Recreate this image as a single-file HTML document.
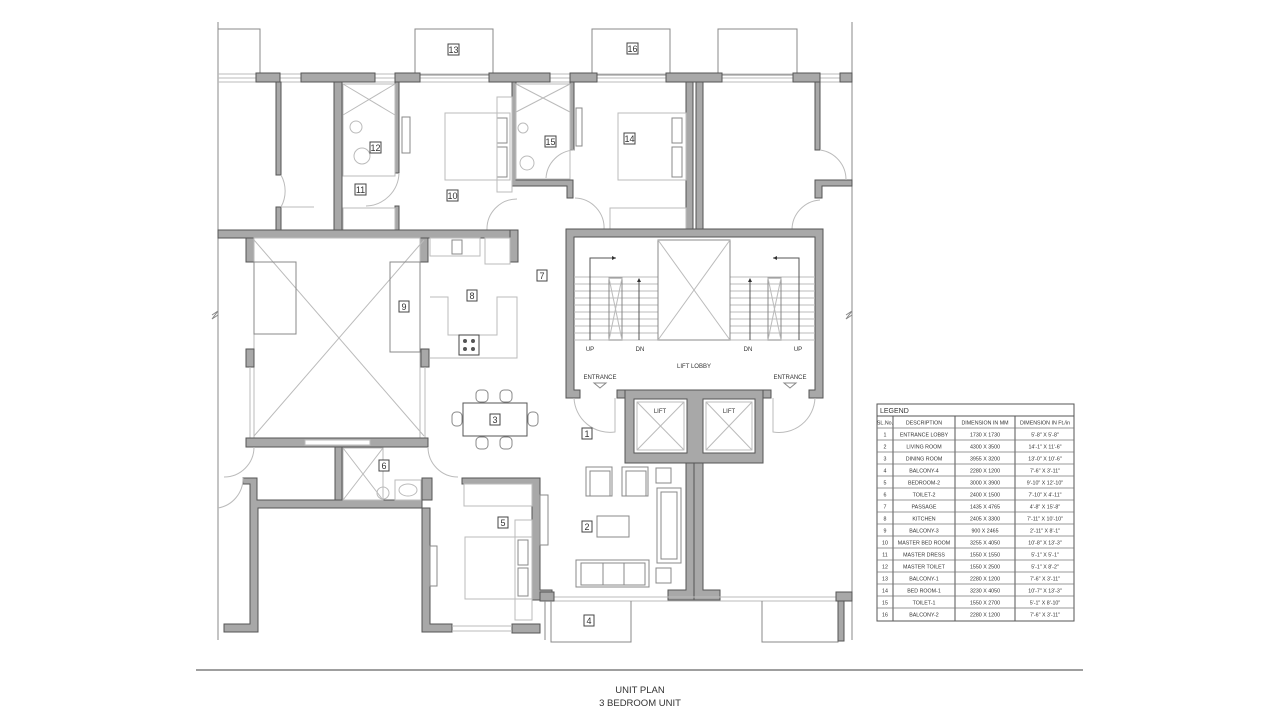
<!DOCTYPE html>
<html><head><meta charset="utf-8"><style>
html,body{margin:0;padding:0;background:#fff;width:1280px;height:720px;overflow:hidden}
svg{display:block}
text{font-family:"Liberation Sans",sans-serif;fill:#333}
.w{fill:#a8a8a8;stroke:#555;stroke-width:1}
.t{fill:none;stroke:#888;stroke-width:1}
.l{fill:none;stroke:#bbb;stroke-width:1}
.n{fill:#fff;stroke:#444;stroke-width:1}
</style></head><body>
<svg width="1280" height="720" viewBox="0 0 1280 720" xmlns="http://www.w3.org/2000/svg">
<!-- outer thin lines -->
<line x1="218" y1="22" x2="218" y2="640" class="t"/>
<line x1="852" y1="22" x2="852" y2="640" class="t"/>
<path d="M212 315 l6 -4 l-6 8 l6 -4" class="t"/>
<path d="M846 315 l6 -4 l-6 8 l6 -4" class="t"/>
<!-- top balconies -->
<path d="M218 29 H260 V75" class="t"/>
<rect x="415" y="29" width="78" height="46" class="t"/>
<rect x="592" y="29" width="78" height="46" class="t"/>
<rect x="718" y="29" width="79" height="46" class="t"/>
<path d="M852 29 H852" class="t"/>
<!-- top window strip -->
<line x1="218" y1="74" x2="852" y2="74" class="l"/>
<line x1="218" y1="78" x2="852" y2="78" class="l"/>
<line x1="218" y1="82" x2="852" y2="82" class="l"/>
<!-- top wall blocks -->
<rect x="256" y="73" width="24" height="9" class="w"/>
<rect x="301" y="73" width="74" height="9" class="w"/>
<rect x="395" y="73" width="25" height="9" class="w"/>
<rect x="489" y="73" width="61" height="9" class="w"/>
<rect x="570" y="73" width="27" height="9" class="w"/>
<rect x="666" y="73" width="56" height="9" class="w"/>
<rect x="793" y="73" width="27" height="9" class="w"/>
<rect x="840" y="73" width="12" height="9" class="w"/>
<!-- vertical walls top -->
<rect x="276" y="82" width="5" height="93" class="w"/>
<rect x="276" y="207" width="5" height="25" class="w"/>
<rect x="334" y="82" width="8" height="150" class="w"/>
<rect x="395" y="82" width="4" height="91" class="w"/>
<rect x="395" y="206" width="4" height="26" class="w"/>
<path d="M512 82 H516 V180 H573 V198 H567 V186 H512 Z" class="w"/>
<rect x="570" y="82" width="4" height="68" class="w"/>
<rect x="686" y="82" width="7" height="150" class="w"/>
<rect x="696" y="82" width="7" height="150" class="w"/>
<rect x="815" y="82" width="5" height="68" class="w"/>
<path d="M815 180 H852 V186 H822 V198 H815 Z" class="w"/>
<!-- doors top -->
<path d="M281 175 A33 33 0 0 1 281 207 M281 207 H314" class="l"/>
<path d="M399 173 A34 34 0 0 1 366 206" class="l"/>
<path d="M487 230 A30 30 0 0 1 517 199" class="l"/>
<path d="M575 198 A30 30 0 0 1 604 230" class="l"/>
<path d="M574 150 A30 30 0 0 0 546 178" class="l"/>
<path d="M820 150 A30 30 0 0 1 846 180" class="l"/>
<path d="M792 230 A30 30 0 0 1 820 200" class="l"/>
<!-- toilets -->
<rect x="343" y="84" width="52" height="92" class="l"/>
<line x1="343" y1="84" x2="395" y2="115" class="l"/><line x1="395" y1="84" x2="343" y2="115" class="l"/>
<circle cx="356" cy="127" r="6" class="l"/><circle cx="362" cy="156" r="8" class="l"/>
<rect x="516" y="84" width="54" height="95" class="l"/>
<line x1="516" y1="84" x2="570" y2="112" class="l"/><line x1="570" y1="84" x2="516" y2="112" class="l"/>
<circle cx="523" cy="128" r="5" class="l"/><circle cx="527" cy="163" r="7" class="l"/>
<rect x="343" y="208" width="52" height="22" class="l"/>
<rect x="610" y="208" width="76" height="22" class="l"/>
<!-- beds -->
<rect x="445" y="113" width="65" height="67" class="l"/>
<rect x="497" y="118" width="10" height="25" class="t"/><rect x="497" y="147" width="10" height="30" class="t"/>
<rect x="497" y="97" width="15" height="95" class="l"/>
<rect x="618" y="113" width="68" height="67" class="l"/>
<rect x="672" y="118" width="10" height="25" class="t"/><rect x="672" y="147" width="10" height="30" class="t"/>
<rect x="402" y="117" width="8" height="36" class="t"/>
<rect x="576" y="108" width="6" height="38" class="t"/>
<!-- main horizontal wall -->
<rect x="218" y="230" width="300" height="8" class="w"/>
<rect x="510" y="230" width="8" height="32" class="w"/>
<rect x="246" y="238" width="8" height="24" class="w"/>
<rect x="420" y="238" width="8" height="24" class="w"/>
<!-- kitchen -->
<rect x="430" y="238" width="50" height="18" class="l"/>
<rect x="452" y="240" width="10" height="14" class="t"/>
<rect x="485" y="238" width="25" height="26" class="l"/>
<path d="M430 297 H448 V335 H497 V297 H517 V358 H430" class="l"/>
<rect x="459" y="335" width="20" height="20" class="n"/>
<circle cx="465" cy="341" r="2" fill="#555"/><circle cx="473" cy="341" r="2" fill="#555"/>
<circle cx="465" cy="349" r="2" fill="#555"/><circle cx="473" cy="349" r="2" fill="#555"/>
<!-- shaft -->
<rect x="254" y="238" width="166" height="200" class="l"/>
<line x1="254" y1="240" x2="424" y2="436" class="l"/><line x1="424" y1="240" x2="254" y2="436" class="l"/>
<rect x="254" y="262" width="42" height="72" class="t"/>
<rect x="390" y="262" width="30" height="90" class="t"/>
<rect x="246" y="349" width="8" height="18" class="w"/>
<rect x="421" y="349" width="8" height="18" class="w"/>
<line x1="250" y1="367" x2="250" y2="438" class="l"/><line x1="425" y1="367" x2="425" y2="438" class="l"/>
<!-- bottom left walls -->
<rect x="246" y="438" width="182" height="9" class="w"/>
<rect x="305" y="440" width="65" height="5" fill="#fff" stroke="#bbb"/>
<rect x="335" y="447" width="7" height="55" class="w"/>
<path d="M243 478 H257 V500 H432 V478 H422 V632 H452 V624 H430 V508 H258 V632 H224 V624 H250 V484 H243 Z" class="w"/>
<path d="M254 447 A30 30 0 0 1 224 477" class="l"/>
<path d="M243 478 A30 30 0 0 1 218 508" class="l"/>
<path d="M428 447 A30 30 0 0 0 458 477" class="l"/>
<rect x="343" y="448" width="40" height="52" class="l"/>
<line x1="343" y1="448" x2="383" y2="500" class="l"/><line x1="383" y1="448" x2="343" y2="500" class="l"/>
<circle cx="383" cy="493" r="6" class="l"/>
<rect x="395" y="480" width="26" height="20" class="l"/><ellipse cx="408" cy="490" rx="9" ry="6" class="l"/>
<!-- bedroom 5 -->
<path d="M462 478 H540 V590 H552 V600 H532 V484 H462 Z" class="w"/>
<rect x="512" y="624" width="28" height="9" class="w"/>
<line x1="452" y1="626" x2="512" y2="626" class="l"/><line x1="452" y1="631" x2="512" y2="631" class="l"/>
<rect x="464" y="484" width="68" height="22" class="l"/>
<rect x="465" y="537" width="67" height="62" class="l"/>
<rect x="518" y="540" width="10" height="25" class="t"/><rect x="518" y="568" width="10" height="28" class="t"/>
<rect x="515" y="520" width="17" height="100" class="l"/>
<rect x="430" y="546" width="7" height="40" class="t"/>
<rect x="540" y="495" width="8" height="50" class="t"/>
<!-- dining -->
<rect x="463" y="403" width="64" height="33" fill="#fff" stroke="#555"/>
<rect x="476" y="390" width="12" height="12" rx="4" class="t"/><rect x="500" y="390" width="12" height="12" rx="4" class="t"/>
<rect x="476" y="437" width="12" height="12" rx="4" class="t"/><rect x="500" y="437" width="12" height="12" rx="4" class="t"/>
<rect x="452" y="412" width="10" height="14" rx="4" class="t"/><rect x="528" y="412" width="10" height="14" rx="4" class="t"/>
<!-- core -->
<path d="M566 229 H823 V398 H809 V390 H815 V237 H574 V390 H580 V398 H566 Z" class="w"/>
<!-- stairs -->
<g class="l">
<line x1="574" y1="277" x2="658" y2="277"/><line x1="574" y1="284" x2="658" y2="284"/><line x1="574" y1="291" x2="658" y2="291"/><line x1="574" y1="298" x2="658" y2="298"/><line x1="574" y1="305" x2="658" y2="305"/><line x1="574" y1="312" x2="658" y2="312"/><line x1="574" y1="319" x2="658" y2="319"/><line x1="574" y1="326" x2="658" y2="326"/><line x1="574" y1="333" x2="658" y2="333"/><line x1="574" y1="340" x2="658" y2="340"/>
<line x1="730" y1="277" x2="815" y2="277"/><line x1="730" y1="284" x2="815" y2="284"/><line x1="730" y1="291" x2="815" y2="291"/><line x1="730" y1="298" x2="815" y2="298"/><line x1="730" y1="305" x2="815" y2="305"/><line x1="730" y1="312" x2="815" y2="312"/><line x1="730" y1="319" x2="815" y2="319"/><line x1="730" y1="326" x2="815" y2="326"/><line x1="730" y1="333" x2="815" y2="333"/><line x1="730" y1="340" x2="815" y2="340"/>
</g>
<rect x="609" y="278" width="13" height="62" fill="#fff" class="t"/>
<line x1="609" y1="278" x2="622" y2="340" class="l"/><line x1="622" y1="278" x2="609" y2="340" class="l"/>
<rect x="768" y="278" width="13" height="62" fill="#fff" class="t"/>
<line x1="768" y1="278" x2="781" y2="340" class="l"/><line x1="781" y1="278" x2="768" y2="340" class="l"/>
<path d="M590 340 V258 H616" stroke="#555" fill="none"/><path d="M616 258 l-4 -2 v4z" fill="#333"/>
<path d="M639 340 V280" stroke="#555" fill="none"/><path d="M639 278 l-2 4 h4z" fill="#333"/>
<path d="M799 340 V258 H773" stroke="#555" fill="none"/><path d="M773 258 l4 -2 v4z" fill="#333"/>
<path d="M750 340 V280" stroke="#555" fill="none"/><path d="M750 278 l-2 4 h4z" fill="#333"/>
<rect x="658" y="240" width="72" height="100" class="t"/>
<line x1="658" y1="240" x2="730" y2="340" class="l"/><line x1="730" y1="240" x2="658" y2="340" class="l"/>
<text x="590" y="351" font-size="6" text-anchor="middle">UP</text>
<text x="640" y="351" font-size="6" text-anchor="middle">DN</text>
<text x="748" y="351" font-size="6" text-anchor="middle">DN</text>
<text x="798" y="351" font-size="6" text-anchor="middle">UP</text>
<text x="694" y="368" font-size="6" text-anchor="middle">LIFT LOBBY</text>
<text x="600" y="379" font-size="6" text-anchor="middle">ENTRANCE</text>
<text x="790" y="379" font-size="6" text-anchor="middle">ENTRANCE</text>
<path d="M594 383 h12 l-6 5z" class="t"/><path d="M784 383 h12 l-6 5z" class="t"/>
<path d="M574 398 A36 36 0 0 0 615 432 V398" class="l"/>
<path d="M815 398 A36 36 0 0 1 773 432 V398" class="l"/>
<!-- lifts -->
<rect x="617" y="390" width="8" height="8" class="w"/><rect x="763" y="390" width="8" height="8" class="w"/>
<path d="M625 390 H763 V463 H625 Z M634 399 V453 H687 V399 Z M703 399 V453 H755 V399 Z" class="w" fill-rule="evenodd"/>
<rect x="637" y="402" width="47" height="48" class="l"/><line x1="637" y1="402" x2="684" y2="450" class="l"/><line x1="684" y1="402" x2="637" y2="450" class="l"/>
<rect x="706" y="402" width="46" height="48" class="l"/><line x1="706" y1="402" x2="752" y2="450" class="l"/><line x1="752" y1="402" x2="706" y2="450" class="l"/>
<text x="660" y="413" font-size="6" text-anchor="middle">LIFT</text>
<text x="729" y="413" font-size="6" text-anchor="middle">LIFT</text>
<path d="M686 463 H703 V590 H720 V600 H668 V590 H686 Z" class="w"/>
<line x1="694" y1="463" x2="694" y2="600" stroke="#555"/>
<!-- living furniture -->
<rect x="586" y="467" width="26" height="29" class="t"/><rect x="590" y="471" width="20" height="25" class="t"/>
<rect x="622" y="467" width="26" height="29" class="t"/><rect x="626" y="471" width="20" height="25" class="t"/>
<rect x="656" y="468" width="15" height="15" class="t"/>
<rect x="657" y="488" width="24" height="75" class="t"/><rect x="661" y="492" width="16" height="67" class="t"/>
<rect x="597" y="516" width="32" height="21" class="t"/>
<rect x="576" y="560" width="73" height="27" class="t"/><rect x="581" y="563" width="64" height="22" class="t"/>
<line x1="603" y1="563" x2="603" y2="585" class="t"/><line x1="624" y1="563" x2="624" y2="585" class="t"/>
<rect x="656" y="568" width="15" height="15" class="t"/>
<!-- bottom window strip and balconies -->
<line x1="540" y1="597" x2="852" y2="597" class="l"/><line x1="540" y1="601" x2="852" y2="601" class="l"/>
<rect x="540" y="592" width="14" height="9" class="w"/>
<rect x="836" y="592" width="16" height="9" class="w"/>
<path d="M545 601 V640" class="t"/>
<path d="M551 601 V642 H631 V601" class="t"/>
<path d="M762 601 V642 H838 V601" class="t"/>
<rect x="838" y="601" width="6" height="40" class="w"/>
<!-- labels -->
<g font-size="9" text-anchor="middle">
<rect x="448" y="44" width="11" height="11" class="n"/><text x="453.5" y="53">13</text>
<rect x="627" y="43" width="11" height="11" class="n"/><text x="632.5" y="52">16</text>
<rect x="370" y="142" width="11" height="11" class="n"/><text x="375.5" y="151">12</text>
<rect x="355" y="184" width="11" height="11" class="n"/><text x="360.5" y="193">11</text>
<rect x="447" y="190" width="11" height="11" class="n"/><text x="452.5" y="199">10</text>
<rect x="545" y="136" width="11" height="11" class="n"/><text x="550.5" y="145">15</text>
<rect x="624" y="133" width="11" height="11" class="n"/><text x="629.5" y="142">14</text>
<rect x="537" y="270" width="10" height="11" class="n"/><text x="542" y="279">7</text>
<rect x="467" y="290" width="10" height="11" class="n"/><text x="472" y="299">8</text>
<rect x="399" y="301" width="10" height="11" class="n"/><text x="404" y="310">9</text>
<rect x="490" y="414" width="10" height="11" class="n"/><text x="495" y="423">3</text>
<rect x="582" y="428" width="10" height="11" class="n"/><text x="587" y="437">1</text>
<rect x="379" y="460" width="10" height="11" class="n"/><text x="384" y="469">6</text>
<rect x="498" y="517" width="10" height="11" class="n"/><text x="503" y="526">5</text>
<rect x="582" y="521" width="10" height="11" class="n"/><text x="587" y="530">2</text>
<rect x="584" y="615" width="10" height="11" class="n"/><text x="589" y="624">4</text>
</g>
<!-- legend -->
<g stroke="#555" stroke-width="1" fill="none">
<rect x="877" y="404" width="197" height="217"/>
<line x1="877" y1="416" x2="1074" y2="416"/>
<line x1="893" y1="416" x2="893" y2="621"/><line x1="955" y1="416" x2="955" y2="621"/><line x1="1015" y1="416" x2="1015" y2="621"/>
</g>
<g stroke="#777" stroke-width="0.7">
<line x1="877" y1="428" x2="1074" y2="428"/><line x1="877" y1="440" x2="1074" y2="440"/><line x1="877" y1="452" x2="1074" y2="452"/><line x1="877" y1="464" x2="1074" y2="464"/><line x1="877" y1="476" x2="1074" y2="476"/><line x1="877" y1="488" x2="1074" y2="488"/><line x1="877" y1="500" x2="1074" y2="500"/><line x1="877" y1="512" x2="1074" y2="512"/><line x1="877" y1="524" x2="1074" y2="524"/><line x1="877" y1="536" x2="1074" y2="536"/><line x1="877" y1="548" x2="1074" y2="548"/><line x1="877" y1="560" x2="1074" y2="560"/><line x1="877" y1="572" x2="1074" y2="572"/><line x1="877" y1="584" x2="1074" y2="584"/><line x1="877" y1="596" x2="1074" y2="596"/><line x1="877" y1="608" x2="1074" y2="608"/>
</g>
<text x="880" y="413" font-size="7">LEGEND</text>
<g font-size="5.3" text-anchor="middle">
<text x="885" y="424.5">SL.No.</text><text x="924" y="424.5">DESCRIPTION</text><text x="985" y="424.5">DIMENSION IN MM</text><text x="1045" y="424.5">DIMENSION IN Ft./in</text>
<text x="885" y="436.5">1</text><text x="924" y="436.5">ENTRANCE LOBBY</text><text x="985" y="436.5">1730 X 1730</text><text x="1045" y="436.5">5'-8" X 5'-8"</text>
<text x="885" y="448.5">2</text><text x="924" y="448.5">LIVING ROOM</text><text x="985" y="448.5">4300 X 3500</text><text x="1045" y="448.5">14'-1" X 11'-6"</text>
<text x="885" y="460.5">3</text><text x="924" y="460.5">DINING ROOM</text><text x="985" y="460.5">3955 X 3200</text><text x="1045" y="460.5">13'-0" X 10'-6"</text>
<text x="885" y="472.5">4</text><text x="924" y="472.5">BALCONY-4</text><text x="985" y="472.5">2280 X 1200</text><text x="1045" y="472.5">7'-6" X 3'-11"</text>
<text x="885" y="484.5">5</text><text x="924" y="484.5">BEDROOM-2</text><text x="985" y="484.5">3000 X 3900</text><text x="1045" y="484.5">9'-10" X 12'-10"</text>
<text x="885" y="496.5">6</text><text x="924" y="496.5">TOILET-2</text><text x="985" y="496.5">2400 X 1500</text><text x="1045" y="496.5">7'-10" X 4'-11"</text>
<text x="885" y="508.5">7</text><text x="924" y="508.5">PASSAGE</text><text x="985" y="508.5">1435 X 4765</text><text x="1045" y="508.5">4'-8" X 15'-8"</text>
<text x="885" y="520.5">8</text><text x="924" y="520.5">KITCHEN</text><text x="985" y="520.5">2405 X 3300</text><text x="1045" y="520.5">7'-11" X 10'-10"</text>
<text x="885" y="532.5">9</text><text x="924" y="532.5">BALCONY-3</text><text x="985" y="532.5">900 X 2465</text><text x="1045" y="532.5">2'-11" X 8'-1"</text>
<text x="885" y="544.5">10</text><text x="924" y="544.5">MASTER BED ROOM</text><text x="985" y="544.5">3255 X 4050</text><text x="1045" y="544.5">10'-8" X 13'-3"</text>
<text x="885" y="556.5">11</text><text x="924" y="556.5">MASTER DRESS</text><text x="985" y="556.5">1550 X 1550</text><text x="1045" y="556.5">5'-1" X 5'-1"</text>
<text x="885" y="568.5">12</text><text x="924" y="568.5">MASTER TOILET</text><text x="985" y="568.5">1550 X 2500</text><text x="1045" y="568.5">5'-1" X 8'-2"</text>
<text x="885" y="580.5">13</text><text x="924" y="580.5">BALCONY-1</text><text x="985" y="580.5">2280 X 1200</text><text x="1045" y="580.5">7'-6" X 3'-11"</text>
<text x="885" y="592.5">14</text><text x="924" y="592.5">BED ROOM-1</text><text x="985" y="592.5">3230 X 4050</text><text x="1045" y="592.5">10'-7" X 13'-3"</text>
<text x="885" y="604.5">15</text><text x="924" y="604.5">TOILET-1</text><text x="985" y="604.5">1550 X 2700</text><text x="1045" y="604.5">5'-1" X 8'-10"</text>
<text x="885" y="616.5">16</text><text x="924" y="616.5">BALCONY-2</text><text x="985" y="616.5">2280 X 1200</text><text x="1045" y="616.5">7'-6" X 3'-11"</text>
</g>
<!-- title -->
<line x1="196" y1="670" x2="1083" y2="670" stroke="#666" stroke-width="1.2"/>
<text x="640" y="693" font-size="9.5" text-anchor="middle">UNIT PLAN</text>
<text x="640" y="706" font-size="9.5" text-anchor="middle">3 BEDROOM UNIT</text>
</svg>
</body></html>
